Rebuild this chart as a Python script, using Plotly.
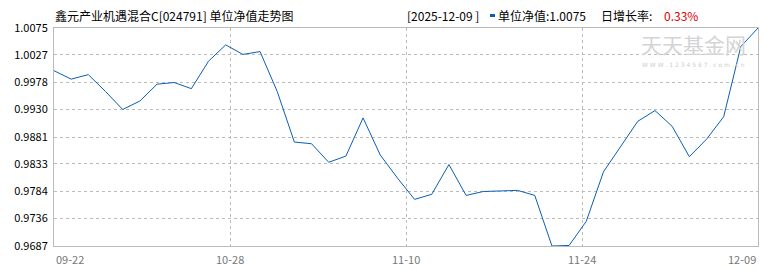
import plotly.graph_objects as go

# ---- data ----
nav = [0.9999, 0.9984, 0.9992, 0.9962, 0.9930, 0.9945, 0.9975, 0.9978, 0.9967, 1.0016,
       1.0045, 1.0028, 1.0033, 0.9962, 0.9872, 0.9869, 0.9836, 0.9847, 0.9915, 0.9849,
       0.9808, 0.9770, 0.9779, 0.9832, 0.9777, 0.9784, 0.9785, 0.9786, 0.9777, 0.9687,
       0.9688, 0.9731, 0.9819, 0.9865, 0.9909, 0.9928, 0.9900, 0.9846, 0.9877, 0.9917,
       1.0042, 1.0075]
x_labels = ["09-22", "10-28", "11-10", "11-24", "12-09"]
y_ticks = [0.9687, 0.9736, 0.9784, 0.9833, 0.9881, 0.9930, 0.9978, 1.0027, 1.0075]
y_ticktext = ["0.9687", "0.9736", "0.9784", "0.9833", "0.9881", "0.9930", "0.9978", "1.0027", "1.0075"]
title_text = "鑫元产业机遇混合C[024791] 单位净值走势图"
info_date = "2025-12-09"
info_nav = "1.0075"
info_rate = "0.33%"

FONT = "Noto Sans CJK SC, sans-serif"
L, R, T, B, W, H = 54, 12, 28, 24, 770, 270
PW, PH = W - L - R, H - T - B


def px(xp):
    return (xp - L) / PW


def py(yp):
    return 1 - (yp - T) / PH


n = len(nav)
xs = list(range(n))
x_tick_pos = [i * (n - 1) / (len(x_labels) - 1) for i in range(len(x_labels))]

fig = go.Figure()
fig.add_trace(go.Scatter(x=xs, y=nav, mode="lines",
                         line=dict(color="#0a5fb4", width=1), hoverinfo="skip"))

annotations = []
# x tick labels
for i, (p, t) in enumerate(zip(x_tick_pos, x_labels)):
    anchor = "left" if i == 0 else ("right" if i == len(x_labels) - 1 else "center")
    annotations.append(dict(x=p, y=0, xref="x", yref="paper", text=t, showarrow=False,
                            xanchor=anchor, yanchor="top", yshift=-3,
                            font=dict(family=FONT, size=11, color="#777777")))
# title
annotations.append(dict(x=0, y=1, xref="paper", yref="paper", text=title_text,
                        showarrow=False, xanchor="left", yanchor="middle", yshift=13, xshift=-1,
                        font=dict(family=FONT, size=12, color="#000000")))
# info line pieces
info_parts = [
    (406, f"[{info_date} ]", "#000000"),
    (497, f"单位净值:{info_nav}", "#000000"),
    (600, "日增长率:", "#000000"),
    (663, info_rate, "#e00000"),
]
for xp, txt, col in info_parts:
    annotations.append(dict(x=px(xp), y=1, xref="paper", yref="paper", text=txt,
                            showarrow=False, xanchor="left", yanchor="middle", yshift=13,
                            xshift=-1, font=dict(family=FONT, size=12, color=col)))
# watermark
annotations.append(dict(x=px(693), y=py(44), xref="paper", yref="paper",
                        text="天天基金网", showarrow=False, xanchor="center", yanchor="middle",
                        font=dict(family=FONT, size=21, color="#d4d4d4")))
annotations.append(dict(x=px(693), y=py(64), xref="paper", yref="paper",
                        text="W W W . 1 2 3 4 5 6 7 . c o m . c n", showarrow=False,
                        xanchor="center", yanchor="middle",
                        font=dict(family="DejaVu Sans", size=6, color="#cccccc")))

# small blue legend bar in the info line
shapes = [dict(type="rect", xref="paper", yref="paper",
               x0=px(490), x1=px(495), y0=py(17), y1=py(14),
               fillcolor="#0a5fb4", line=dict(width=0))]

fig.update_layout(
    width=W, height=H,
    margin=dict(l=L, r=R, t=T, b=B),
    paper_bgcolor="#ffffff", plot_bgcolor="#ffffff",
    showlegend=False,
    annotations=annotations,
    shapes=shapes,
    xaxis=dict(range=[0, n - 1], tickvals=x_tick_pos, showticklabels=False, ticks="",
               showgrid=True, gridcolor="#bbbbbb", griddash="3px,3px", gridwidth=1,
               showline=True, linecolor="#bbbbbb", linewidth=1, mirror=True, zeroline=False,
               fixedrange=True),
    yaxis=dict(range=[y_ticks[0], y_ticks[-1]], tickvals=y_ticks, ticktext=y_ticktext,
               ticks="", ticklabelstandoff=3,
               tickfont=dict(family=FONT, size=11, color="#000000"),
               showgrid=True, gridcolor="#bbbbbb", griddash="3px,3px", gridwidth=1,
               showline=True, linecolor="#bbbbbb", linewidth=1, mirror=True, zeroline=False,
               fixedrange=True),
)

fig.write_html("out.html", config={"displayModeBar": False})
